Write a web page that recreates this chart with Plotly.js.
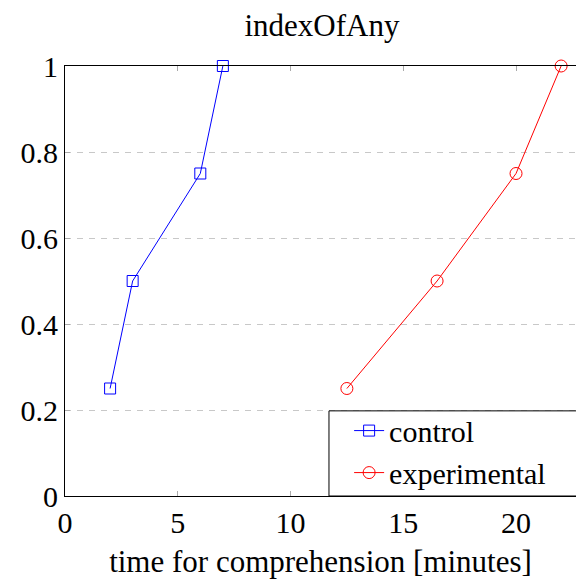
<!DOCTYPE html>
<html>
<head>
<meta charset="utf-8">
<script src="https://cdn.plot.ly/plotly-3.0.1.min.js"></script>
<style>html,body{margin:0;padding:0;background:#fff;}</style>
</head>
<body>
<div id="chart" style="width:576px;height:579px;"></div>
<script>
var controlX = [2, 3, 6, 7];
var controlY = [0.25, 0.5, 0.75, 1];
var experimentalX = [12.5, 16.5, 20, 22];
var experimentalY = [0.25, 0.5, 0.75, 1];
var xTickVals = [0, 5, 10, 15, 20];
var xTickText = ['0', '5', '10', '15', '20'];
var yTickVals = [0, 0.2, 0.4, 0.6, 0.8, 1];
var yTickText = ['0', '0.2', '0.4', '0.6', '0.8', '1'];

var fontFam = 'Liberation Serif';

var traces = [
  {x: controlX, y: controlY, name: 'control', type: 'scatter', mode: 'lines+markers',
   cliponaxis: false,
   line: {color: '#0000ff', width: 1},
   marker: {symbol: 'square-open', size: 11, color: '#0000ff', line: {width: 1}}},
  {x: experimentalX, y: experimentalY, name: 'experimental', type: 'scatter', mode: 'lines+markers',
   cliponaxis: false,
   line: {color: '#ff0000', width: 1},
   marker: {symbol: 'circle-open', size: 12, color: '#ff0000', line: {width: 1}}}
];

var layout = {
  width: 576, height: 579,
  margin: {l: 65, r: 0, t: 66, b: 83, autoexpand: false},
  paper_bgcolor: '#fff', plot_bgcolor: '#fff',
  font: {family: fontFam, size: 30, color: '#000'},
  title: {text: 'indexOfAny', x: 0.559, xanchor: 'center', y: 0.957, yanchor: 'middle',
          font: {family: fontFam, size: 31, color: '#000'}},
  xaxis: {range: [0, 22.66], tickvals: xTickVals, ticktext: xTickText,
          showgrid: false, zeroline: false, showline: true, linecolor: '#000', linewidth: 1,
          mirror: 'ticks', ticks: 'inside', ticklen: 5, tickcolor: '#aaa', tickwidth: 1,
          title: {text: 'time for comprehension [minutes]', standoff: 19, font: {family: fontFam, size: 31, color: '#000'}},
          tickfont: {family: fontFam, size: 30, color: '#000'}},
  yaxis: {range: [0, 1], tickvals: yTickVals, ticktext: yTickText,
          showgrid: true, gridcolor: '#c8c8c8', griddash: '6px,6px', gridwidth: 1,
          zeroline: false, showline: true, linecolor: '#000', linewidth: 1,
          ticks: 'inside', ticklen: 5, tickcolor: '#aaa', tickwidth: 1,
          tickfont: {family: fontFam, size: 30, color: '#000'}},
  legend: {x: 0.556, xanchor: 'left', y: -0.006, yanchor: 'bottom',
           bgcolor: 'rgba(0,0,0,0)', borderwidth: 0,
           font: {family: fontFam, size: 30, color: '#000'}, tracegroupgap: 0},
  shapes: [{type: 'rect', xref: 'paper', yref: 'paper', x0: 0.5166, x1: 1.05, y0: 0, y1: 0.198,
            line: {color: '#000', width: 1}, fillcolor: '#fff', layer: 'above'}],
  showlegend: true
};

Plotly.newPlot('chart', traces, layout, {staticPlot: true, displayModeBar: false});
</script>
</body>
</html>
